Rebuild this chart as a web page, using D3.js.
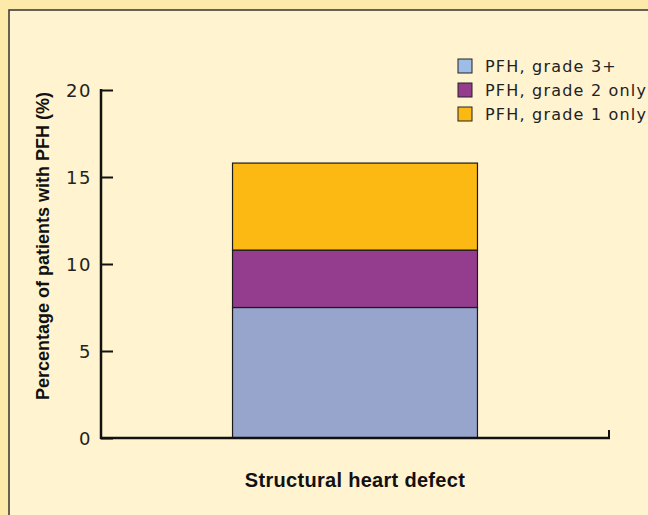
<!DOCTYPE html>
<html>
<head>
<meta charset="utf-8">
<script src="https://cdn.jsdelivr.net/npm/d3@7"></script>
<style>
  body { margin: 0; background: #fde9a9; }
  svg { display: block; }
</style>
</head>
<body>
<svg width="648" height="515"></svg>
<script>
// one stacked bar, three grades of PFH
const categories = ["Structural heart defect"];
const seriesNames = ["PFH, grade 3+", "PFH, grade 2 only", "PFH, grade 1 only"];
const grade3 = [7.5];
const grade2 = [3.3];
const grade1 = [5.0];
const yTicks = [0, 5, 10, 15, 20];

const barColors = ["#97a5cd", "#943d8f", "#fdb913"];
const legendColors = ["#9dbde6", "#943d8f", "#fdb913"];

var svg = d3.select("svg");

// panel
svg.append("rect")
    .attr("x", 9).attr("y", 10)
    .attr("width", 660).attr("height", 520)
    .attr("fill", "#fff3d0")
    .attr("stroke", "#333")
    .attr("stroke-width", 1.5);

var y = d3.scaleLinear().domain([0, 20]).range([438, 90]);
var x = d3.scaleBand().domain(categories).range([101, 609]).paddingInner(0).paddingOuter(0.537);

var rows = categories.map((c, i) => ({cat: c, g3: grade3[i], g2: grade2[i], g1: grade1[i]}));
var stack = d3.stack().keys(["g3", "g2", "g1"])(rows);

svg.append("g")
    .selectAll("g")
    .data(stack)
    .enter().append("g")
    .attr("fill", (d, i) => barColors[i])
    .selectAll("rect")
    .data(d => d)
    .enter().append("rect")
    .attr("x", d => x(d.data.cat))
    .attr("width", x.bandwidth())
    .attr("y", d => y(d[1]))
    .attr("height", d => y(d[0]) - y(d[1]))
    .attr("stroke", "#1a1a1a")
    .attr("stroke-width", 1.2);

// y axis: ticks pointing inward
var yAxis = d3.axisRight(y).tickValues(yTicks).tickSize(12).tickFormat("");
var gy = svg.append("g").attr("transform", "translate(101,0)").call(yAxis);
gy.select(".domain").remove();
gy.selectAll(".tick line").attr("stroke", "#111").attr("stroke-width", 2);

svg.append("line")
    .attr("x1", 101).attr("x2", 101)
    .attr("y1", y(20) - 1).attr("y2", y(0) + 1)
    .attr("stroke", "#111").attr("stroke-width", 2.5);

svg.append("g")
    .selectAll("text")
    .data(yTicks)
    .enter().append("text")
    .attr("x", 92)
    .attr("y", d => y(d) + 7)
    .attr("text-anchor", "end")
    .style("font-family", "DejaVu Sans, Arial")
    .style("font-size", "18px")
    .style("letter-spacing", "1.5px")
    .attr("fill", "#222")
    .text(d => d);

// x axis
svg.append("line")
    .attr("x1", 100).attr("x2", 610)
    .attr("y1", y(0)).attr("y2", y(0))
    .attr("stroke", "#111").attr("stroke-width", 2.5);
svg.append("line")
    .attr("x1", 609).attr("x2", 609)
    .attr("y1", y(0)).attr("y2", y(0) - 8)
    .attr("stroke", "#111").attr("stroke-width", 2);

svg.append("text")
    .attr("x", 355).attr("y", 487)
    .attr("text-anchor", "middle")
    .style("font-family", "Liberation Sans, Arial")
    .style("font-size", "20px")
    .style("font-weight", "bold")
    .style("letter-spacing", "0.3px")
    .attr("fill", "#111")
    .text(categories[0]);

svg.append("text")
    .attr("transform", "translate(49,246) rotate(-90)")
    .attr("text-anchor", "middle")
    .style("font-family", "Liberation Sans, Arial")
    .style("font-size", "18px")
    .style("font-weight", "bold")
    .attr("fill", "#111")
    .text("Percentage of patients with PFH (%)");

// legend
var legend = svg.append("g")
    .selectAll("g")
    .data(seriesNames)
    .enter().append("g")
    .attr("transform", (d, i) => "translate(458," + (59 + i * 24) + ")");
legend.append("rect")
    .attr("width", 14).attr("height", 14)
    .attr("fill", (d, i) => legendColors[i])
    .attr("stroke", "#222").attr("stroke-width", 1);
legend.append("text")
    .attr("x", 27).attr("y", 13)
    .style("font-family", "DejaVu Sans, Arial")
    .style("font-size", "16px")
    .style("letter-spacing", "1.2px")
    .attr("fill", "#222")
    .text(d => d);
</script>
</body>
</html>
